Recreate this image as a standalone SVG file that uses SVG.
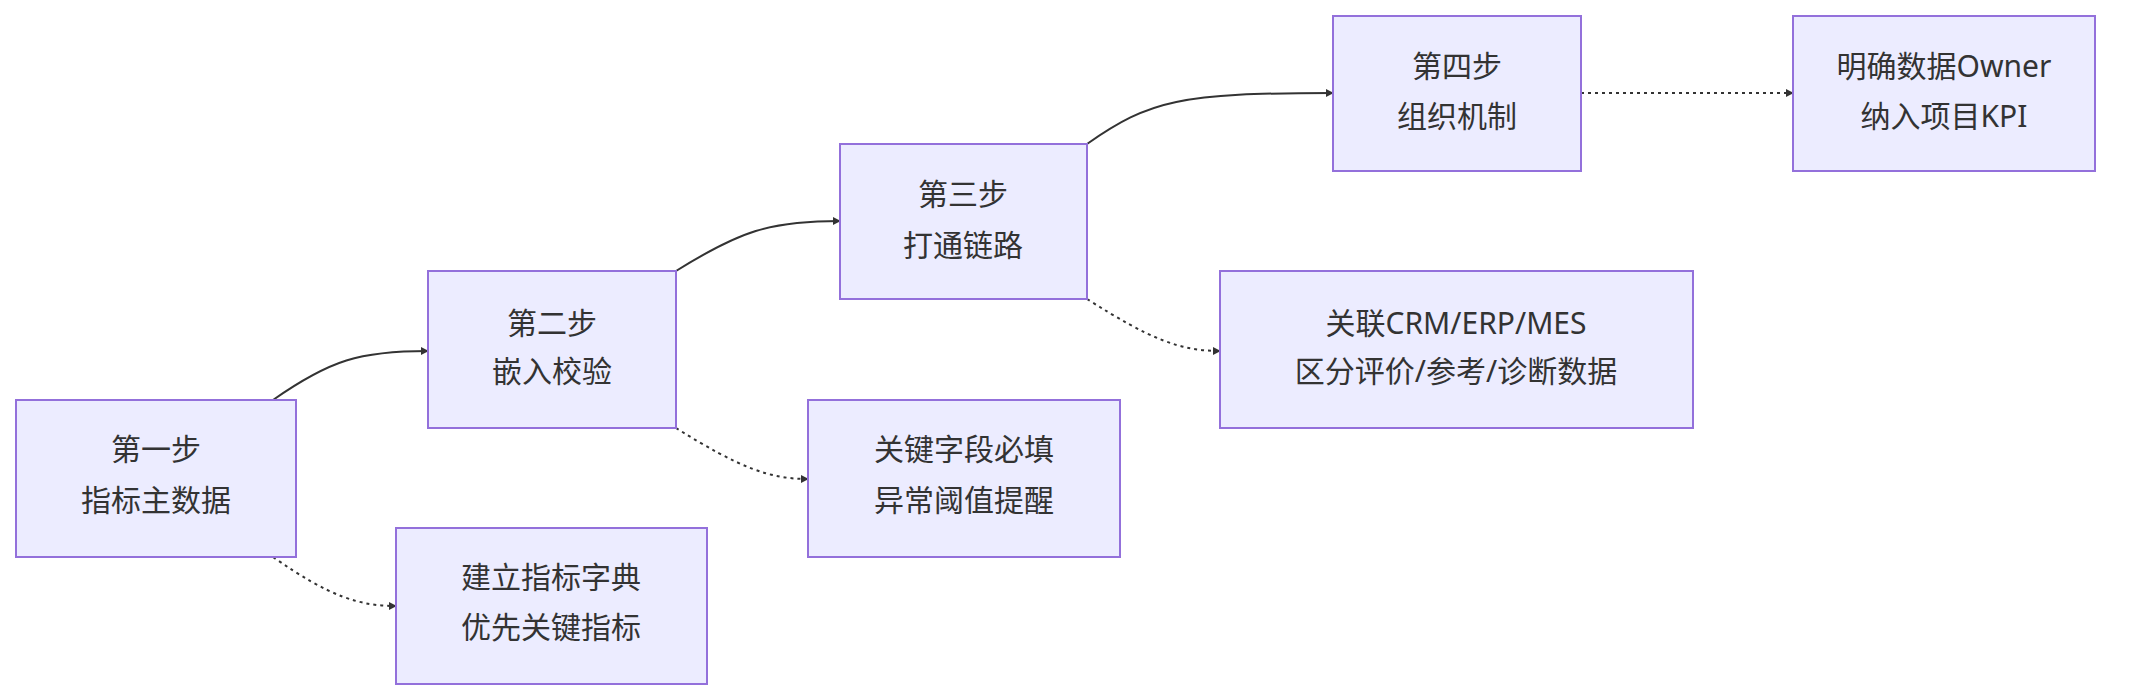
<svg xmlns="http://www.w3.org/2000/svg" width="2150" height="700" viewBox="0 0 2150 700">
<style>
.n rect{fill:#ECECFF;stroke:#9370DB;stroke-width:2}
.n text{font-family:"Noto Sans","Noto Sans CJK SC",sans-serif;font-size:30px;fill:#333;text-anchor:middle;dominant-baseline:middle}
.e path{fill:none;stroke:#333;stroke-width:2}
.e .d{stroke-dasharray:3 4}
</style>
<defs><marker id="a" viewBox="0 0 10 10" refX="9" refY="5" markerWidth="8" markerHeight="8" markerUnits="userSpaceOnUse" orient="auto"><path d="M0,0L10,5L0,10z" fill="#333"/></marker></defs>
<rect width="2150" height="700" fill="#fff"/>
<g class="e">
<path d="M273,400 C330,360 360,351 428,351" marker-end="url(#a)" style="marker-end:url(#a)"/>
<path class="d" d="M273,557 C330,597 360,606 396,606" marker-end="url(#a)"/>
<path d="M676,271 C740,231 770,221 840,221" marker-end="url(#a)"/>
<path class="d" d="M676,428 C740,468 770,479 808,479" marker-end="url(#a)"/>
<path d="M1087,144 C1150,100 1180,93 1333,93" marker-end="url(#a)"/>
<path class="d" d="M1087,299 C1150,339 1180,351 1220,351" marker-end="url(#a)"/>
<path class="d" d="M1581,93 L1793,93" marker-end="url(#a)"/>
</g>
<g id="n1" class="n"><rect x="16" y="400" width="280" height="157"/><text x="156" y="452">第一步</text><text x="156" y="503">指标主数据</text></g>
<g id="n2" class="n"><rect x="428" y="271" width="248" height="157"/><text x="552" y="326">第二步</text><text x="552" y="374">嵌入校验</text></g>
<g id="n3" class="n"><rect x="840" y="144" width="247" height="155"/><text x="963" y="197">第三步</text><text x="963" y="248">打通链路</text></g>
<g id="n4" class="n"><rect x="1333" y="16" width="248" height="155"/><text x="1457" y="69">第四步</text><text x="1457" y="119">组织机制</text></g>
<g id="n5" class="n"><rect x="1793" y="16" width="302" height="155"/><text x="1944" y="69">明确数据Owner</text><text x="1944" y="119">纳入项目KPI</text></g>
<g id="n6" class="n"><rect x="1220" y="271" width="473" height="157"/><text x="1456" y="326">关联CRM/ERP/MES</text><text x="1456" y="374">区分评价/参考/诊断数据</text></g>
<g id="n7" class="n"><rect x="808" y="400" width="312" height="157"/><text x="964" y="452">关键字段必填</text><text x="964" y="503">异常阈值提醒</text></g>
<g id="n8" class="n"><rect x="396" y="528" width="311" height="156"/><text x="551" y="580">建立指标字典</text><text x="551" y="630">优先关键指标</text></g>
</svg>
